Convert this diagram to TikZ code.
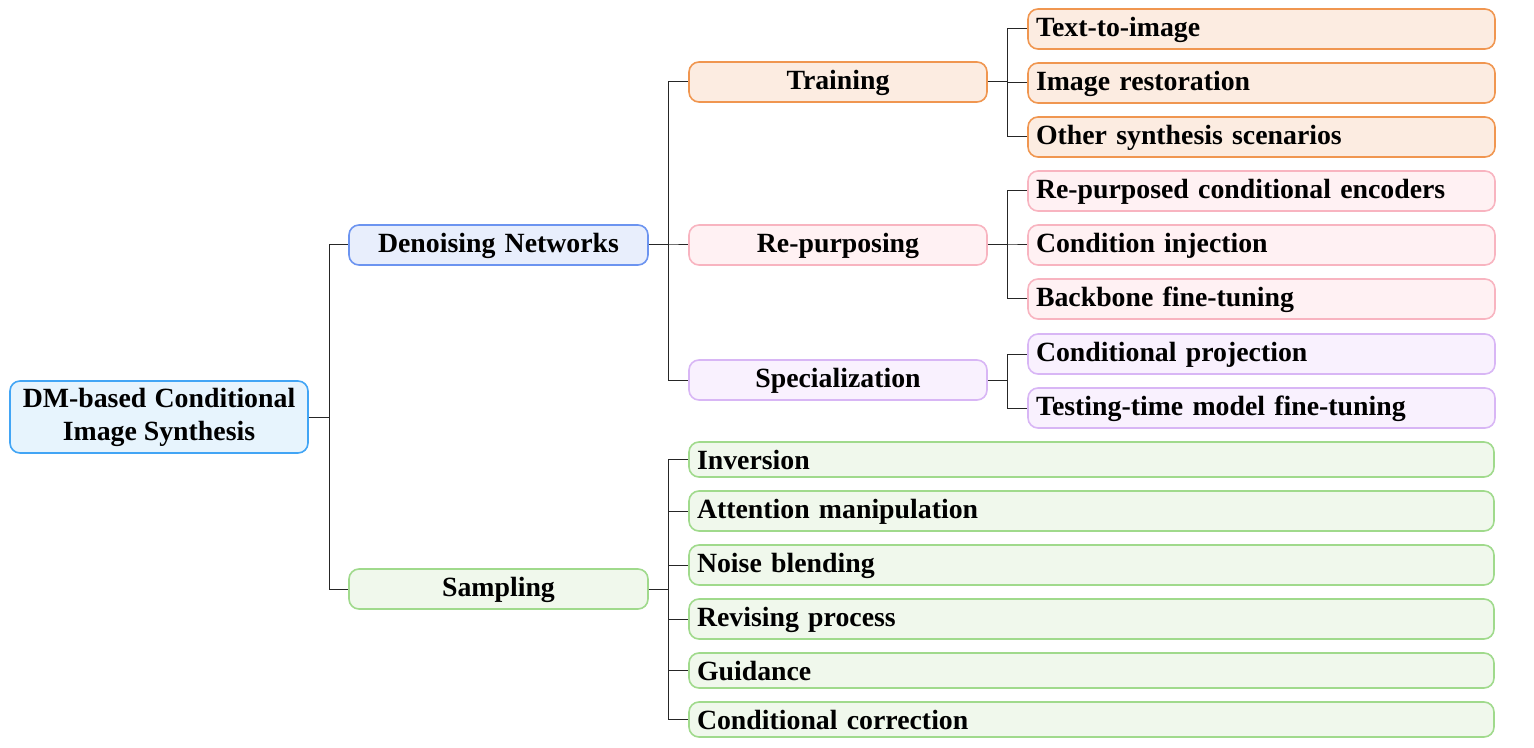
\documentclass[tikz,border=0pt]{standalone}
\usepackage{fontspec}
\setmainfont{Liberation Serif}
\definecolor{rootB}{RGB}{66,165,245}
\definecolor{rootF}{RGB}{231,244,253}
\definecolor{denB}{RGB}{108,148,240}
\definecolor{denF}{RGB}{232,238,252}
\definecolor{trB}{RGB}{240,150,80}
\definecolor{trF}{RGB}{252,236,225}
\definecolor{reB}{RGB}{248,180,192}
\definecolor{reF}{RGB}{255,241,243}
\definecolor{spB}{RGB}{216,182,245}
\definecolor{spF}{RGB}{249,241,254}
\definecolor{saB}{RGB}{160,218,140}
\definecolor{saF}{RGB}{240,248,236}
\begin{document}
\begin{tikzpicture}[x=0.5pt,y=-0.5pt,
  box/.style={draw, rounded corners=5pt, line width=0.8pt,
    font=\fontsize{13.9}{16.5}\selectfont\bfseries,
    inner xsep=4pt, inner ysep=3.3pt},
  txt/.style={box, text height=10.3pt, text depth=3.1pt},
  mid/.style={txt, minimum width=149pt, text width=141pt, align=center},
  leaf/.style={txt, minimum width=233.5pt, text width=225.5pt, align=left},
  sleaf/.style={txt, minimum width=402.5pt, text width=394.5pt, align=left},
  short/.style={text depth=0.6pt},
  conn/.style={line width=0.5pt, draw=black!85},
  rootc/.style={draw=rootB, fill=rootF},
  denc/.style={draw=denB, fill=denF},
  trc/.style={draw=trB, fill=trF},
  rec/.style={draw=reB, fill=reF},
  spc/.style={draw=spB, fill=spF},
  sac/.style={draw=saB, fill=saF}]
\useasboundingbox (0,0) rectangle (1534,748);

\node[box, rootc, align=center, minimum width=149pt, minimum height=36pt] (root) at (159,417) {DM-based\hspace{0.3em}Conditional\\Image Synthesis};

\node[mid, denc, minimum width=149.5pt] (den) at (498.5,245) {Denoising Networks};
\node[mid, sac, minimum width=149.5pt] (samp) at (498.5,589) {Sampling};

\node[mid, trc] (train) at (838,82) {Training};
\node[mid, rec] (rep) at (838,245) {Re-purposing};
\node[mid, spc] (spec) at (838,380) {Specialization};

\node[leaf, trc] (t2i) at (1261.5,29) {Text-to-image};
\node[leaf, trc] (ir) at (1261.5,83) {Image restoration};
\node[leaf, trc] (oth) at (1261.5,137) {Other synthesis scenarios};
\node[leaf, rec] (rpe) at (1261.5,191) {Re-purposed conditional encoders};
\node[leaf, rec] (ci) at (1261.5,245) {Condition injection};
\node[leaf, rec] (bft) at (1261.5,299) {Backbone fine-tuning};
\node[leaf, spc] (cp) at (1261.5,354) {Conditional projection};
\node[leaf, spc] (ttm) at (1261.5,408) {Testing-time model fine-tuning};

\node[sleaf, sac, short] (inv) at (1091.5,459.5) {Inversion};
\node[sleaf, sac] (att) at (1091.5,511) {Attention manipulation};
\node[sleaf, sac] (noise) at (1091.5,565) {Noise blending};
\node[sleaf, sac] (rev) at (1091.5,619) {Revising process};
\node[sleaf, sac, short] (guid) at (1091.5,670.5) {Guidance};
\node[sleaf, sac, short] (cc) at (1091.5,719.5) {Conditional correction};

\foreach \c in {den,samp} \draw[conn] (root.east) -- ++(21,0) |- (\c.west);
\foreach \c in {train,rep,spec} \draw[conn] (den.east) -- ++(20,0) |- (\c.west);
\foreach \c in {t2i,ir,oth} \draw[conn] (train.east) -- ++(20,0) |- (\c.west);
\foreach \c in {rpe,ci,bft} \draw[conn] (rep.east) -- ++(20,0) |- (\c.west);
\foreach \c in {cp,ttm} \draw[conn] (spec.east) -- ++(20,0) |- (\c.west);
\foreach \c in {inv,att,noise,rev,guid,cc} \draw[conn] (samp.east) -- ++(20,0) |- (\c.west);
\end{tikzpicture}
\end{document}
